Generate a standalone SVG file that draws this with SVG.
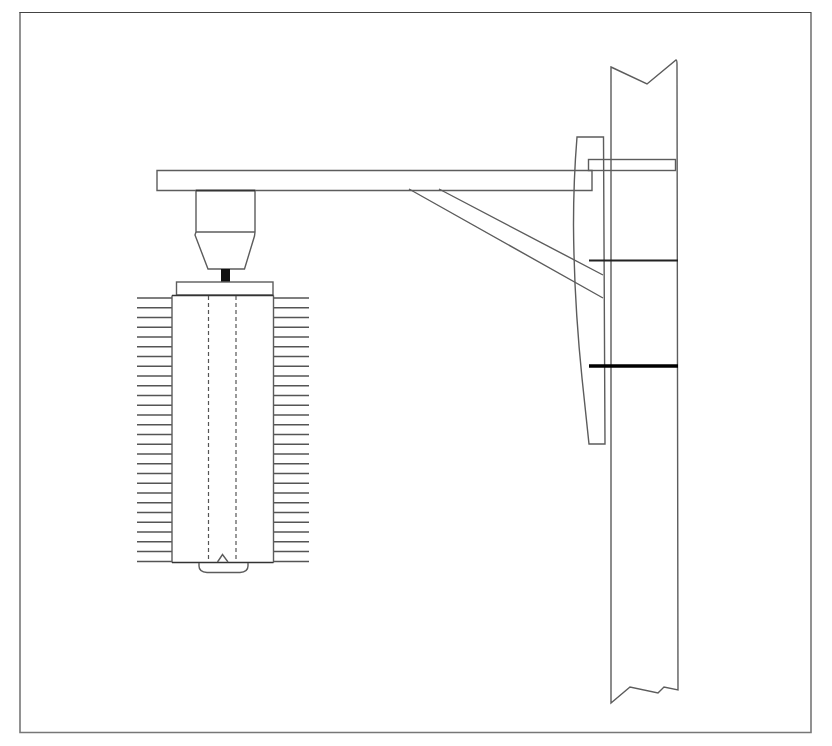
<svg xmlns="http://www.w3.org/2000/svg" width="832" height="746" viewBox="0 0 832 746">
<style>
.l{fill:none;stroke:#5c5c5c;stroke-width:1.4}
.d{fill:none;stroke:#555;stroke-width:1.2;stroke-dasharray:4 3}
.f{stroke:#555;stroke-width:1.5}
</style>
<rect width="832" height="746" fill="#fff"/>
<g id="frame">
<path d="M20 12V732.500H811V12" fill="none" stroke="#777" stroke-width="1.600"/>
<path d="M19.500 12.500H811" fill="none" stroke="#444" stroke-width="1"/>
</g>
<g id="column">
<path class="l" d="M611 67L647 84L676 60Q677 60 677 64L678 690L664 687L658 693L630 687L611 703Z"/>
</g>
<g id="pad">
<path class="l" d="M577 137H603.500L605 444H589L582 378Q574 300 573.500 225Q573.500 180 577 137Z"/>
</g>
<g id="beam">
<path class="l" d="M592 190.500H157V170.500H592Z"/>
<rect class="l" x="588.500" y="159.500" width="87" height="11"/>
</g>
<g id="brace">
<path class="l" d="M409 189L603 298M439 189L603 275"/>
</g>
<g id="bars">
<path d="M589 260.500H678" stroke="#222" stroke-width="2" fill="none"/>
<path d="M589 366H678" stroke="#000" stroke-width="3.600" fill="none"/>
</g>
<g id="motor">
<path class="l" d="M196 190.500H255V232L254.500 236L244.500 269H208L195 235L196 232Z"/>
<path class="l" d="M196 232H255"/>
<path d="M196 190.500H255" stroke="#333" stroke-width="1.500"/>
<rect x="221" y="269" width="9" height="13" fill="#111"/>
</g>
<g id="head">
<rect class="l" x="176.500" y="282" width="96.500" height="13"/>
</g>
<g id="fins">
<path class="f" d="M137 298H172M137 307.700H172M137 317.500H172M137 327.200H172M137 337H172M137 346.700H172M137 356.500H172M137 366.200H172M137 376H172M137 385.700H172M137 395.500H172M137 405.200H172M137 415H172M137 424.700H172M137 434.500H172M137 444.200H172M137 454H172M137 463.700H172M137 473.500H172M137 483.200H172M137 493H172M137 502.700H172M137 512.500H172M137 522.200H172M137 532H172M137 541.700H172M137 551.500H172M137 561.500H172"/>
<path class="f" d="M273 298H309M273 307.700H309M273 317.500H309M273 327.200H309M273 337H309M273 346.700H309M273 356.500H309M273 366.200H309M273 376H309M273 385.700H309M273 395.500H309M273 405.200H309M273 415H309M273 424.700H309M273 434.500H309M273 444.200H309M273 454H309M273 463.700H309M273 473.500H309M273 483.200H309M273 493H309M273 502.700H309M273 512.500H309M273 522.200H309M273 532H309M273 541.700H309M273 551.500H309M273 561.500H309"/>
</g>
<g id="body">
<path class="l" d="M172 295.500V562.500M273.500 295.500V562.500"/>
<path d="M172 295.500H273.500M172 562.500H273.500" stroke="#333" stroke-width="1.500" fill="none"/>
<path class="d" d="M208.500 296V562M236 296V562"/>
<path class="l" d="M217.500 562L222.500 554.500L228 562"/>
<path class="l" d="M199 563V566Q199 572 207 572.500H240Q248 572 248 566V563"/>
</g>
</svg>
